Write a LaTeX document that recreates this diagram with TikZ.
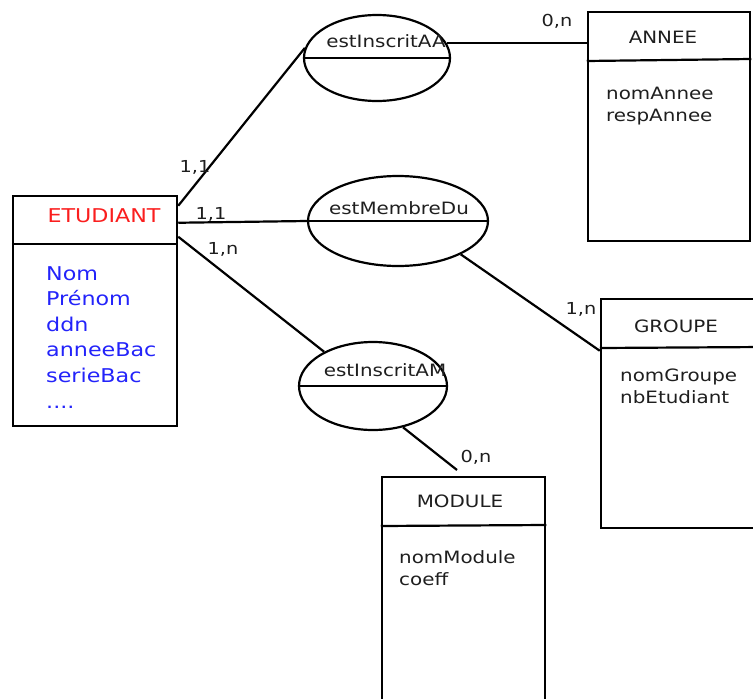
\documentclass[tikz,border=0pt]{standalone}
\usepackage{fontspec}
\setmainfont[FakeStretch=1.17]{DejaVu Sans}
\usetikzlibrary{shapes.geometric, calc}
\definecolor{titlered}{RGB}{250,30,30}
\definecolor{attrblue}{RGB}{35,35,250}
\definecolor{inkgray}{RGB}{30,30,30}

\tikzset{
    entite/.style={draw, line width=2.5pt, minimum width=163, minimum height=229, inner sep=0pt},
    assoc/.style={draw, ellipse, line width=2.2pt, inner sep=0pt},
    lien/.style={line width=2.2pt},
    titre/.style={font=\fontsize{17}{20}\selectfont, text=inkgray, inner sep=0pt},
    attr/.style={font=\fontsize{17}{22}\selectfont, text=inkgray, align=left, anchor=north west, inner sep=0pt},
    card/.style={font=\fontsize{16.5}{19}\selectfont, text=inkgray, inner sep=0pt}
}

\begin{document}
\begin{tikzpicture}[x=1pt, y=-1pt]
    \useasboundingbox (0,0) rectangle (753,699);
    \clip (0,0) rectangle (753,699);
    % entites
    \node[entite, minimum width=164, minimum height=230] (etud) at (95,311) {};
    \node[entite, minimum width=162] (annee) at (669,126.5) {};
    \node[entite, minimum width=162] (groupe) at (682,413.5) {};
    \node[entite] (module) at (463.5,591.5) {};
    \draw[lien] (etud.west |- 0,244) -- (etud.east |- 0,244);
    \draw[lien] (annee.west |- 0,61) -- (annee.east |- 0,59);
    \draw[lien] (groupe.west |- 0,348) -- (groupe.east |- 0,347);
    \draw[lien] (module.west |- 0,526) -- (module.east |- 0,525);
    \node[titre, text=titlered, font=\fontsize{19}{22}\selectfont] (etudTitre) at (104,216) {ETUDIANT};
    \node[titre] (anneeTitre) at (663,37) {ANNEE};
    \node[titre] (groupeTitre) at (676,326) {GROUPE};
    \node[titre] (moduleTitre) at (460,501) {MODULE};
    \node[attr, text=attrblue, font=\fontsize{19}{25.6}\selectfont] (etudAttr) at (46,266) {Nom\\Prénom\\ddn\\anneeBac\\serieBac\\....};
    \node[attr] (anneeAttr) at (606,87) {nomAnnee\\respAnnee};
    \node[attr] (groupeAttr) at (620,369) {nomGroupe\\nbEtudiant};
    \node[attr] (moduleAttr) at (399,550) {nomModule\\coeff};
    % associations
    \node[assoc, minimum width=146, minimum height=86] (aa) at (377,58) {};
    \node[assoc, minimum width=180, minimum height=90] (mb) at (398,221) {};
    \node[assoc, minimum width=148, minimum height=88] (am) at (373,386) {};
    \draw[lien] (aa.west) -- (aa.east);
    \draw[lien] (mb.west) -- (mb.east);
    \draw[lien] (am.west) -- (am.east);
    \node[titre] (aaTitre) at (386,41) {estInscritAA};
    \node[titre] (mbTitre) at (399,208) {estMembreDu};
    \node[titre] (amTitre) at (385,370) {estInscritAM};
    % liens
    \coordinate (modtip) at (457,470);
    \draw[lien] ($(etud.north east)+(0,11)$) -- (aa.172);
    \draw[lien] ($(etud.north east)+(0,28)$) -- (mb.west);
    \draw[lien] ($(etud.north east)+(0,42)$) -- (am.145);
    \draw[lien] (aa.12) -- (aa.12 -| annee.west);
    \draw[lien] (mb.332) -- ($(groupe.north west)+(0,53)$);
    \draw[lien] (am.306) -- (modtip);
    % cardinalites
    \node[card] (c1) at (195,167) {1,1};
    \node[card] (c2) at (211,214) {1,1};
    \node[card] (c3) at (223,249) {1,n};
    \node[card] (c4) at (557,21) {0,n};
    \node[card] (c5) at (581,309) {1,n};
    \node[card] (c6) at (476,457) {0,n};
\end{tikzpicture}
\end{document}
